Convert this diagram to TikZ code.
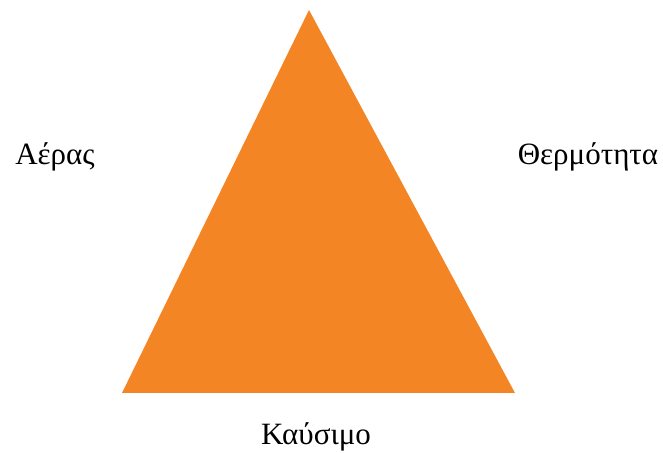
\documentclass[tikz,border=0pt]{standalone}
\usepackage{fontspec}
\setmainfont{Liberation Serif}
\usepackage{tikz}
\usetikzlibrary{positioning}
\definecolor{fireorange}{RGB}{244,133,36}

\begin{document}
\begin{tikzpicture}[x=1pt, y=1pt, every node/.style={font=\fontsize{31}{36}\selectfont, anchor=base, inner sep=0pt}]
    \useasboundingbox (0,0) rectangle (663,452);
    % Fire triangle
    \fill[fireorange] (309,442) -- (122,59) -- (515,59) -- cycle;
    
    % Labels
    \node (air) at (55,287) {Αέρας};
    \node (heat) at (588,287) {Θερμότητα};
    \node (fuel) at (316,8) {Καύσιμο};
\end{tikzpicture}
\end{document}
